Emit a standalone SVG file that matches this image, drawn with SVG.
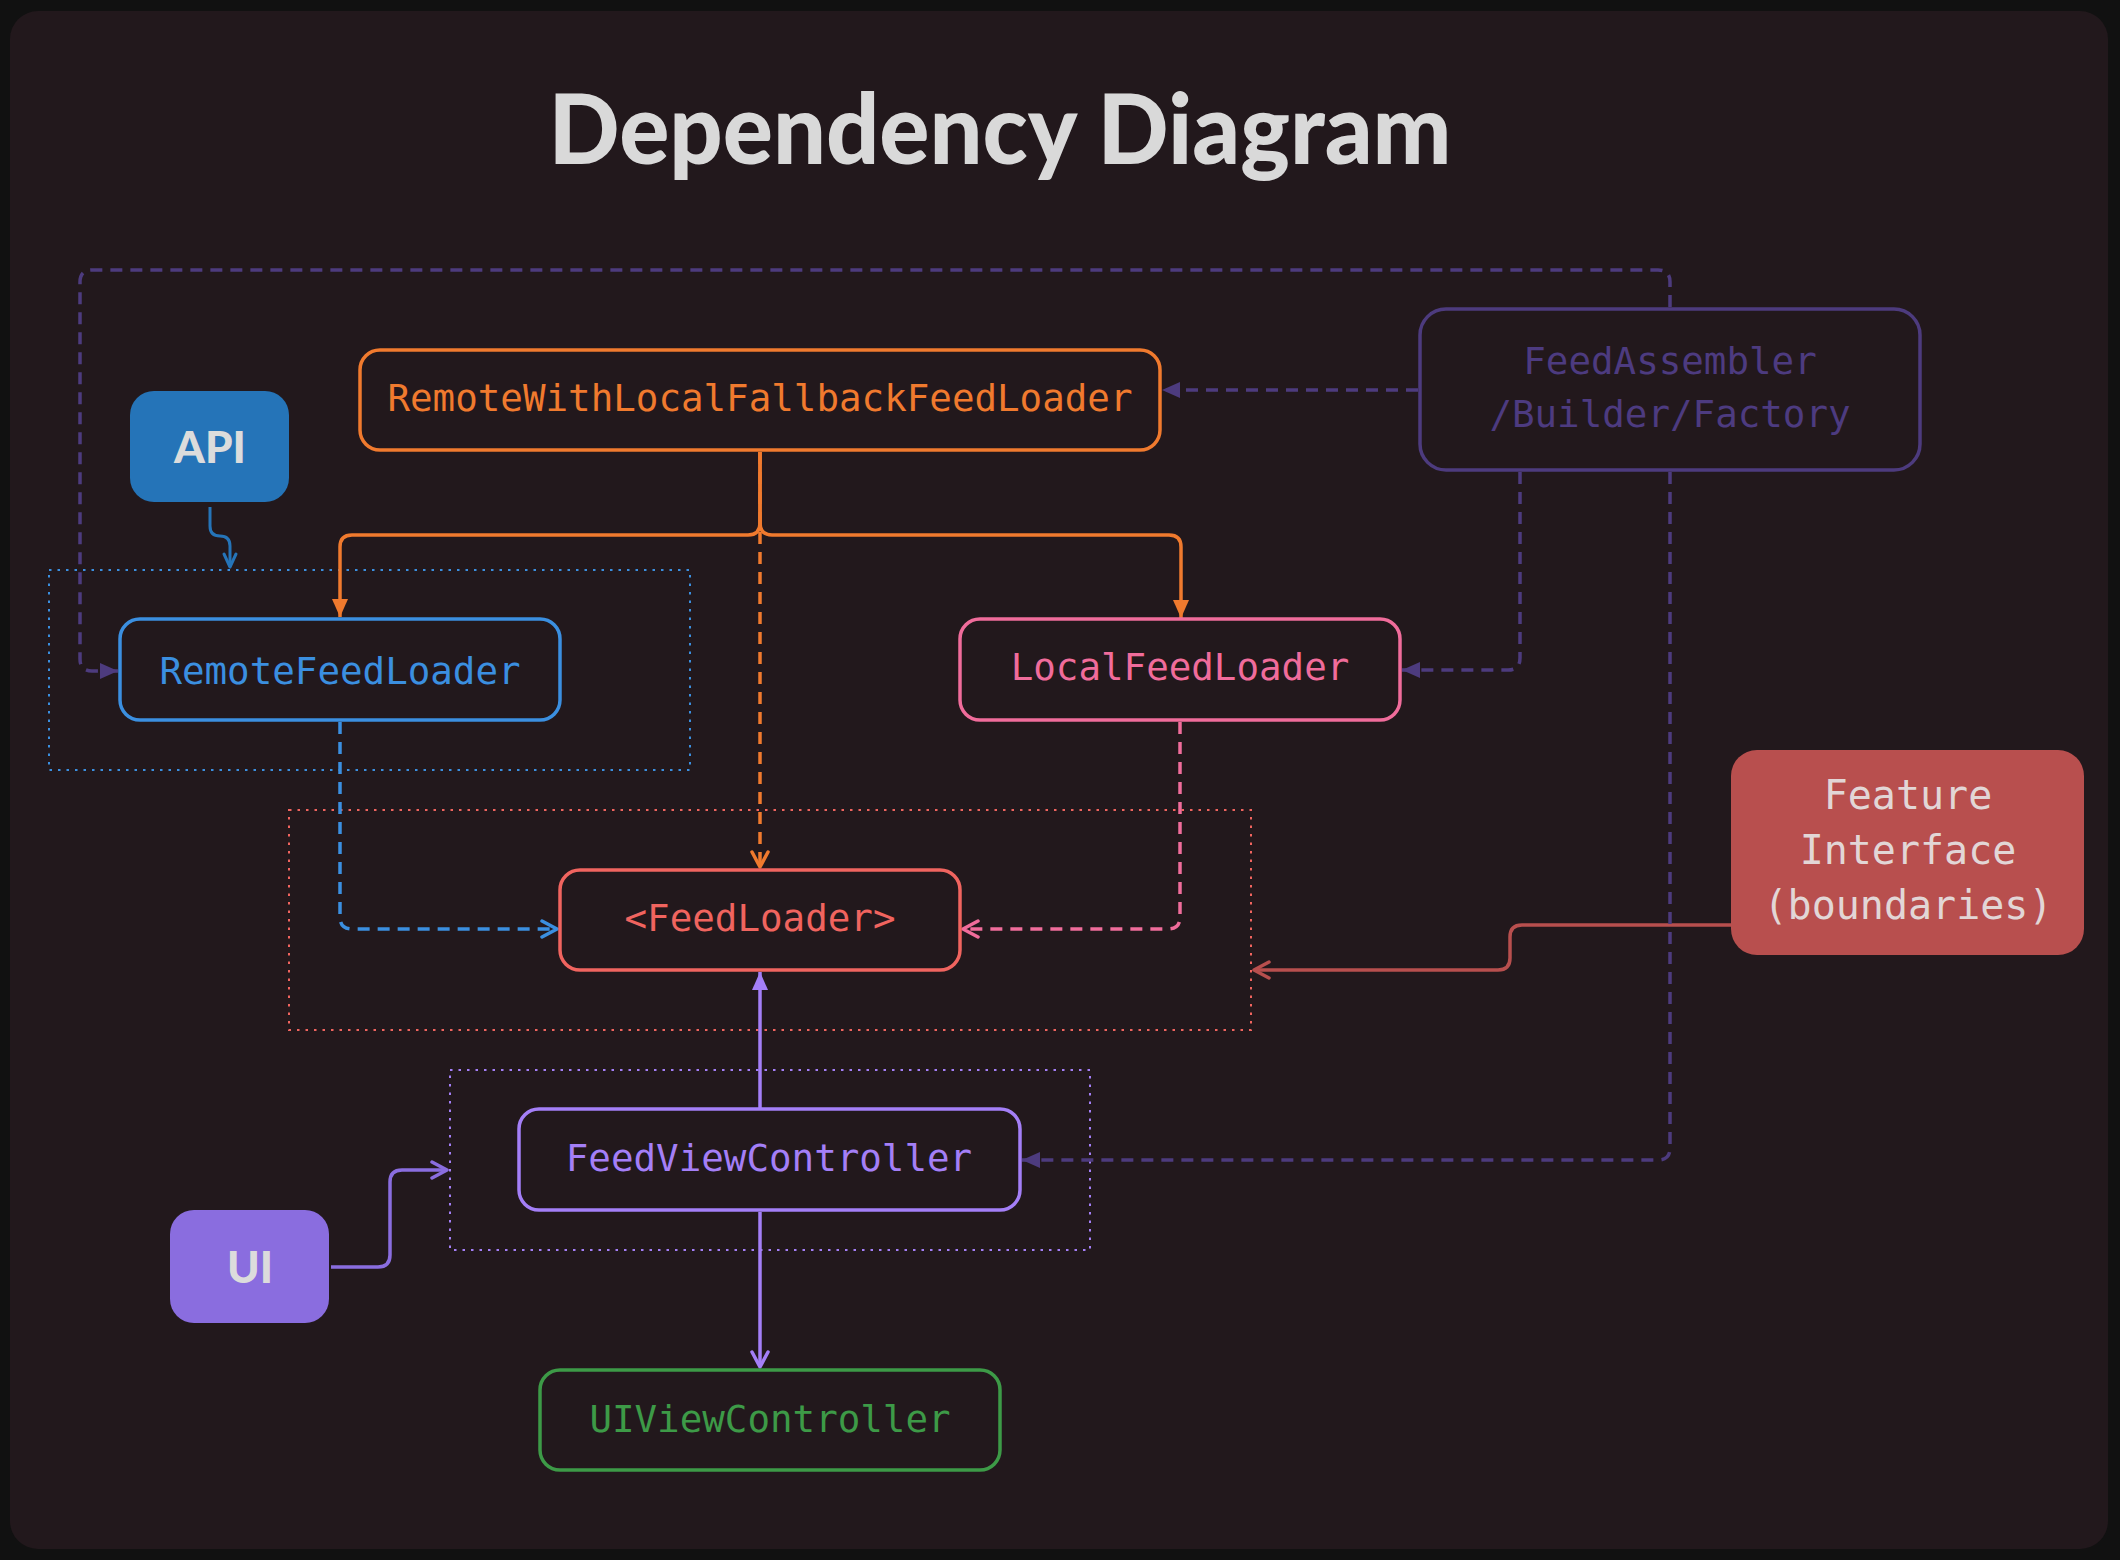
<svg xmlns="http://www.w3.org/2000/svg" width="2120" height="1560" viewBox="0 0 2120 1560">
<defs>
<style>
.ntext{font-family:"DejaVu Sans Mono","Liberation Mono",monospace;font-size:37.5px;dominant-baseline:central;text-anchor:middle}
.btext{font-family:Lato,"Liberation Sans",sans-serif;font-weight:900;font-size:44px;dominant-baseline:central;text-anchor:middle;fill:#dcdcdc}
.node{fill:#22181c;stroke-width:3.5}
.conn{fill:none;stroke-width:3.5;stroke-linecap:butt;stroke-linejoin:round}
.dash{stroke-dasharray:12 8}
.grp{fill:none;stroke-width:2;stroke-dasharray:2.5 6}
</style>
<marker id="fOr" markerUnits="userSpaceOnUse" markerWidth="20" markerHeight="18" refX="18" refY="9" orient="auto"><path d="M0,1 L18,9 L0,17 z" fill="#f07a2e"/></marker>
<marker id="fDp" markerUnits="userSpaceOnUse" markerWidth="20" markerHeight="18" refX="18" refY="9" orient="auto"><path d="M0,1 L18,9 L0,17 z" fill="#4d3b7e"/></marker>
<marker id="fLp" markerUnits="userSpaceOnUse" markerWidth="20" markerHeight="18" refX="18" refY="9" orient="auto"><path d="M0,1 L18,9 L0,17 z" fill="#a47ff7"/></marker>
<marker id="oOr" markerUnits="userSpaceOnUse" markerWidth="22" markerHeight="22" refX="17" refY="11" orient="auto"><path d="M2,3 L17,11 L2,19" fill="none" stroke="#f07a2e" stroke-width="3.5" stroke-linecap="round" stroke-linejoin="round"/></marker>
<marker id="oBl" markerUnits="userSpaceOnUse" markerWidth="22" markerHeight="22" refX="17" refY="11" orient="auto"><path d="M2,3 L17,11 L2,19" fill="none" stroke="#3b8fe0" stroke-width="3.5" stroke-linecap="round" stroke-linejoin="round"/></marker>
<marker id="oApi" markerUnits="userSpaceOnUse" markerWidth="22" markerHeight="22" refX="17" refY="11" orient="auto"><path d="M4,5 L17,11 L4,17" fill="none" stroke="#2574b8" stroke-width="3" stroke-linecap="round" stroke-linejoin="round"/></marker>
<marker id="oPk" markerUnits="userSpaceOnUse" markerWidth="22" markerHeight="22" refX="17" refY="11" orient="auto"><path d="M2,3 L17,11 L2,19" fill="none" stroke="#f06c9b" stroke-width="3.5" stroke-linecap="round" stroke-linejoin="round"/></marker>
<marker id="oLp" markerUnits="userSpaceOnUse" markerWidth="22" markerHeight="22" refX="17" refY="11" orient="auto"><path d="M2,3 L17,11 L2,19" fill="none" stroke="#a47ff7" stroke-width="3.5" stroke-linecap="round" stroke-linejoin="round"/></marker>
<marker id="oUi" markerUnits="userSpaceOnUse" markerWidth="22" markerHeight="22" refX="17" refY="11" orient="auto"><path d="M2,3 L17,11 L2,19" fill="none" stroke="#8a6ddf" stroke-width="3.5" stroke-linecap="round" stroke-linejoin="round"/></marker>
<marker id="oRd" markerUnits="userSpaceOnUse" markerWidth="22" markerHeight="22" refX="17" refY="11" orient="auto"><path d="M2,3 L17,11 L2,19" fill="none" stroke="#b84f4e" stroke-width="3.5" stroke-linecap="round" stroke-linejoin="round"/></marker>
</defs>

<rect x="0" y="0" width="2120" height="1560" fill="#111111"/>
<rect x="10" y="11" width="2098" height="1538" rx="28" fill="#22181c"/>

<text x="1000" y="164" font-family="Lato,'Liberation Sans',sans-serif" font-weight="900" font-size="98" fill="#d9d9d9" text-anchor="middle" textLength="903" lengthAdjust="spacingAndGlyphs">Dependency Diagram</text>

<g id="groups">
<rect id="group-remote" class="grp" x="49" y="570" width="641" height="200" stroke="#3b8fe0"/>
<rect id="group-feedloader" class="grp" x="289" y="810" width="962" height="220" stroke="#f0645f"/>
<rect id="group-ui" class="grp" x="450" y="1070" width="640" height="180" stroke="#a47ff7"/>
</g>

<g id="connectors">
<path class="conn" stroke="#f07a2e" d="M760,452 L760,523 Q760,535 748,535 L352,535 Q340,535 340,547 L340,617" marker-end="url(#fOr)"/>
<path class="conn" stroke="#f07a2e" d="M760,452 L760,523 Q760,535 772,535 L1169,535 Q1181,535 1181,547 L1181,618" marker-end="url(#fOr)"/>
<path class="conn dash" stroke="#f07a2e" d="M760,452 L760,867" marker-end="url(#oOr)"/>
<path class="conn dash" stroke="#3b8fe0" d="M340,722 L340,917 Q340,929 352,929 L557,929" marker-end="url(#oBl)"/>
<path class="conn dash" stroke="#f06c9b" d="M1180,722 L1180,917 Q1180,929 1168,929 L963,929" marker-end="url(#oPk)"/>
<path class="conn" stroke="#a47ff7" d="M760,1109 L760,972" marker-end="url(#fLp)"/>
<path class="conn" stroke="#a47ff7" d="M760,1212 L760,1367" marker-end="url(#oLp)"/>
<path class="conn" stroke="#8a6ddf" d="M331,1267 L378,1267 Q390,1267 390,1255 L390,1182 Q390,1170 402,1170 L447,1170" marker-end="url(#oUi)"/>
<path class="conn" stroke="#b84f4e" d="M1731,925 L1522,925 Q1510,925 1510,937 L1510,958 Q1510,970 1498,970 L1254,970" marker-end="url(#oRd)"/>
<path class="conn dash" stroke="#4d3b7e" d="M1418,390 L1162,390" marker-end="url(#fDp)"/>
<path class="conn dash" stroke="#4d3b7e" d="M1520,472 L1520,658 Q1520,670 1508,670 L1402,670" marker-end="url(#fDp)"/>
<path class="conn dash" stroke="#4d3b7e" d="M1670,472 L1670,1148 Q1670,1160 1658,1160 L1022,1160" marker-end="url(#fDp)"/>
<path class="conn dash" stroke="#4d3b7e" d="M1670,307 L1670,282 Q1670,270 1658,270 L92,270 Q80,270 80,282 L80,659 Q80,671 92,671 L118,671" marker-end="url(#fDp)"/>
<path class="conn" stroke="#2574b8" d="M210,507 L210,526 Q210,536 220,536 Q230,536 230,546 L230,567" marker-end="url(#oApi)" style="stroke-width:3"/>
</g>

<g id="node-rwlf">
<rect class="node" x="360" y="350" width="800" height="100" rx="20" stroke="#f07a2e"/>
<text class="ntext" x="760" y="398" fill="#f07a2e">RemoteWithLocalFallbackFeedLoader</text>
</g>
<g id="node-api">
<rect x="130" y="391" width="159" height="111" rx="24" fill="#2574b8"/>
<text class="btext" x="210" y="446">API</text>
</g>
<g id="node-remote">
<rect class="node" x="120" y="619" width="440" height="101" rx="20" stroke="#3b8fe0"/>
<text class="ntext" x="340" y="671" fill="#3b8fe0">RemoteFeedLoader</text>
</g>
<g id="node-local">
<rect class="node" x="960" y="619" width="440" height="101" rx="20" stroke="#f06c9b"/>
<text class="ntext" x="1180" y="667" fill="#f06c9b">LocalFeedLoader</text>
</g>
<g id="node-assembler">
<rect class="node" x="1420" y="309" width="500" height="161" rx="26" stroke="#4d3b7e"/>
<text class="ntext" x="1670" y="361" fill="#4d3b80">FeedAssembler</text>
<text class="ntext" x="1670" y="414" fill="#4d3b80">/Builder/Factory</text>
</g>
<g id="node-feature">
<rect x="1731" y="750" width="353" height="205" rx="26" fill="#b84f4e"/>
<text class="ntext" x="1908" y="795" fill="#e2d6d6" style="font-size:40px">Feature</text>
<text class="ntext" x="1908" y="850" fill="#e2d6d6" style="font-size:40px">Interface</text>
<text class="ntext" x="1908" y="905" fill="#e2d6d6" style="font-size:40px">(boundaries)</text>
</g>
<g id="node-feedloader">
<rect class="node" x="560" y="870" width="400" height="100" rx="20" stroke="#f0645f"/>
<text class="ntext" x="760" y="918" fill="#f0645f">&lt;FeedLoader&gt;</text>
</g>
<g id="node-fvc">
<rect class="node" x="519" y="1109" width="501" height="101" rx="20" stroke="#a47ff7"/>
<text class="ntext" x="769" y="1158" fill="#a47ff7">FeedViewController</text>
</g>
<g id="node-ui">
<rect x="170" y="1210" width="159" height="113" rx="24" fill="#8a6ddf"/>
<text class="btext" x="250" y="1266">UI</text>
</g>
<g id="node-uivc">
<rect class="node" x="540" y="1370" width="460" height="100" rx="20" stroke="#3d9a47"/>
<text class="ntext" x="770" y="1419" fill="#3d9a47">UIViewController</text>
</g>
</svg>
